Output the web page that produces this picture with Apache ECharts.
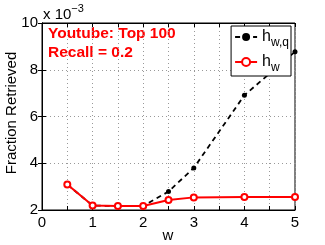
<!DOCTYPE html>
<html><head><meta charset="utf-8">
<script src="https://cdn.jsdelivr.net/npm/echarts@6/dist/echarts.min.js"></script>
<style>html,body{margin:0;padding:0;background:#fff}#c{width:325px;height:245px}</style>
</head><body><div id="c"></div>
<script>
const wValues = [0.5, 1, 1.5, 2, 2.5, 3, 4, 5];
const hwq = [3.09, 2.19, 2.17, 2.17, 2.79, 3.80, 6.91, 8.77];
const hw = [3.09, 2.19, 2.17, 2.17, 2.43, 2.54, 2.56, 2.56];
const xTicks = [0, 1, 2, 3, 4, 5];
const yTicks = [2, 4, 6, 8, 10];
const font = '"Liberation Sans", Arial, sans-serif';
const chart = echarts.init(document.getElementById('c'));
const grid = {left: 42, right: 30, top: 23, bottom: 35};
const tick = {inside: true, length: 4, lineStyle: {color: '#000'}};
const lbl = {fontFamily: font, fontSize: 15, color: '#000'};
const xBase = {
  type: 'value', min: xTicks[0], max: xTicks[xTicks.length-1], interval: 0.5,
  axisLine: {lineStyle: {color: '#000'}}, axisTick: tick
};
const yBase = {
  type: 'value', min: yTicks[0], max: yTicks[yTicks.length-1], interval: 2,
  axisLine: {lineStyle: {color: '#000'}}, axisTick: tick
};
chart.setOption({
  animation: false,
  grid: Object.assign({show: true, borderColor: '#000', borderWidth: 1, backgroundColor: '#fff', outerBoundsMode: 'none', containLabel: false}, grid),
  xAxis: [
    Object.assign({}, xBase, {
      position: 'bottom',
      axisLabel: Object.assign({}, lbl, {margin: 5, formatter: v => Number.isInteger(v) ? String(v) : ''}),
      splitLine: {show: true, lineStyle: {type: [1, 3], color: '#999'}}
    }),
    Object.assign({}, xBase, {position: 'top', axisLabel: {show: false}, splitLine: {show: false}})
  ],
  yAxis: [
    Object.assign({}, yBase, {
      position: 'left',
      axisLabel: Object.assign({}, lbl, {margin: 4}),
      splitLine: {show: true, lineStyle: {type: [1, 3], color: '#999'}}
    }),
    Object.assign({}, yBase, {position: 'right', axisLabel: {show: false}, splitLine: {show: false}})
  ],
  legend: {
    orient: 'vertical', right: 34, top: 26,
    backgroundColor: '#fff', borderColor: '#000', borderWidth: 1,
    padding: [3, 2, 2, 3], itemGap: 5, itemWidth: 22, itemHeight: 10,
    textStyle: {
      fontFamily: font, fontSize: 15, color: '#000',
      rich: {
        h: {fontFamily: font, fontSize: 16, color: '#000'},
        s: {fontFamily: font, fontSize: 12, color: '#000', padding: [12, 0, 0, 0]}
      }
    },
    formatter: function(n){ return n === 'hwq' ? '{h|h}{s|w,q}' : '{h|h}{s|w}'; },
    data: ['hwq', 'hw']
  },
  series: [
    {
      name: 'hwq', type: 'line', data: wValues.map((x,i)=>[x, hwq[i]]),
      lineStyle: {color: '#000', width: 1.8, type: [5, 4]},
      itemStyle: {color: '#000'}, symbol: 'circle', symbolSize: 5, z: 2
    },
    {
      name: 'hw', type: 'line', data: wValues.map((x,i)=>[x, hw[i]]),
      lineStyle: {color: '#ff0000', width: 2},
      itemStyle: {color: '#ff0000', borderColor: '#ff0000', borderWidth: 1.5},
      symbol: 'emptyCircle', symbolSize: 6, z: 3
    }
  ],
  graphic: [
    {type: 'text', left: 43, top: 3, style: {
      text: '{a|x 10}{b|−3}', rich: {
        a: {fontFamily: font, fontSize: 15, fill: '#000'},
        b: {fontFamily: font, fontSize: 11, fill: '#000', padding: [0, 0, 12, 0]}
      }}},
    {type: 'text', x: 168, y: 236, style: {text: 'w', fontFamily: font, fontSize: 15, fill: '#000', align: 'center', verticalAlign: 'middle'}},
    {type: 'text', x: 12, y: 113, rotation: Math.PI / 2, style: {text: 'Fraction Retrieved', fontFamily: font, fontSize: 15, fill: '#000', align: 'center', verticalAlign: 'middle'}},
    {type: 'text', left: 48, top: 26, style: {text: 'Youtube: Top 100', fontFamily: font, fontSize: 15.5, fontWeight: 'bold', fill: '#ff0000'}},
    {type: 'text', left: 48, top: 45, style: {text: 'Recall = 0.2', fontFamily: font, fontSize: 15.5, fontWeight: 'bold', fill: '#ff0000'}}
  ]
});
</script></body></html>
